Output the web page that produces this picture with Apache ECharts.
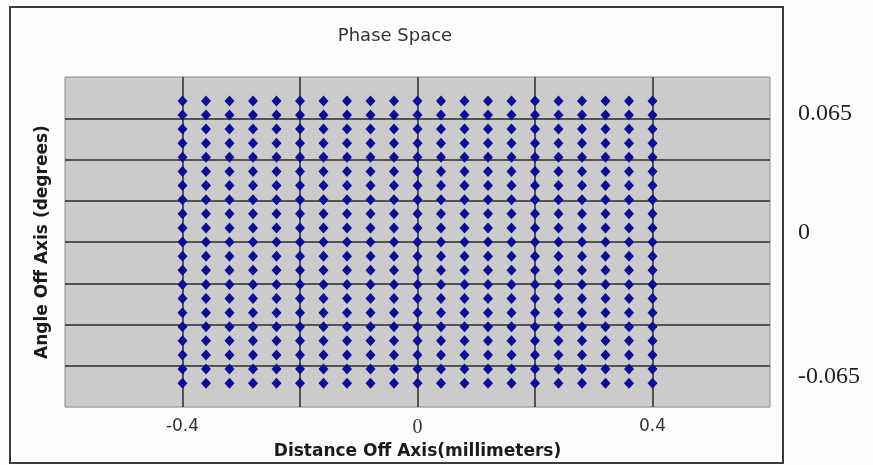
<!DOCTYPE html>
<html>
<head>
<meta charset="utf-8">
<script src="https://cdn.jsdelivr.net/npm/echarts@6/dist/echarts.min.js"></script>
<style>html,body{margin:0;padding:0;background:#fdfdfd}#c{width:873px;height:465px}</style>
</head>
<body>
<div id="c"></div>
<script>
var columns = [-0.4,-0.36,-0.32,-0.28,-0.24,-0.2,-0.16,-0.12,-0.08,-0.04,0,0.04,0.08,0.12,0.16,0.2,0.24,0.28,0.32,0.36,0.4];
var rows = [-0.065,-0.0585,-0.052,-0.0455,-0.039,-0.0325,-0.026,-0.0195,-0.013,-0.0065,0,0.0065,0.013,0.0195,0.026,0.0325,0.039,0.0455,0.052,0.0585,0.065];
var xTickLabels = ['-0.4','0','0.4'];
var sideLabels = ['0.065','0','-0.065'];

var points = [];
columns.forEach(function(x){ rows.forEach(function(y){ points.push([x,y]); }); });

var chart = echarts.init(document.getElementById('c'), null, {renderer:'canvas'});
var font = 'DejaVu Sans, Liberation Sans, Arial, sans-serif';
var serif = 'Liberation Serif, Times New Roman, serif';
chart.setOption({
  backgroundColor:'#fdfdfd',
  animation:false,
  grid:{left:65, top:77, width:705, height:332, show:true, backgroundColor:'#cbcbcb', borderColor:'#8c8c8c', borderWidth:1},
  xAxis:{
    type:'value', min:-0.6, max:0.6, interval:0.2,
    axisLine:{show:false}, axisTick:{show:false},
    splitLine:{show:true, showMinLine:false, showMaxLine:false, lineStyle:{color:'#2b2b2b', width:1.5}},
    axisLabel:{
      margin:11, fontFamily:font, fontSize:17, color:'#333',
      formatter:function(v){
        for (var i=0;i<xTickLabels.length;i++){ if (Math.abs(v-parseFloat(xTickLabels[i]))<1e-9) return xTickLabels[i]==='0' ? '{s|0}' : xTickLabels[i]; }
        return '';
      },
      rich:{s:{fontFamily:serif, fontSize:20, color:'#333'}}
    },
    name:'Distance Off Axis(millimeters)', nameLocation:'middle', nameGap:28,
    nameTextStyle:{fontFamily:font, fontSize:17, fontWeight:'bold', color:'#1a1a1a'}
  },
  yAxis:{
    type:'value', min:-0.076, max:0.076, interval:0.019,
    axisLine:{show:false}, axisTick:{show:false}, axisLabel:{show:false},
    splitLine:{show:true, showMinLine:false, showMaxLine:false, lineStyle:{color:'#2b2b2b', width:1.5}},
    name:'Angle Off Axis (degrees)', nameLocation:'middle', nameGap:14, nameRotate:90,
    nameTextStyle:{fontFamily:font, fontSize:17, fontWeight:'bold', color:'#1a1a1a'}
  },
  series:[{
    type:'scatter', data:points, symbol:'diamond', symbolSize:[10,11],
    itemStyle:{color:'#0c0c98', opacity:1}
  }],
  graphic:[
    {type:'rect', shape:{x:10, y:7, width:773, height:456}, style:{fill:'none', stroke:'#3c3c3c', lineWidth:2}, silent:true},
    {type:'text', x:395, y:36, style:{text:'Phase Space', fontFamily:font, fontSize:18, fill:'#333', textAlign:'center', textVerticalAlign:'middle'}},
    {type:'text', x:798, y:114, style:{text:sideLabels[0], fontFamily:serif, fontSize:24, fill:'#222', textAlign:'left', textVerticalAlign:'middle'}},
    {type:'text', x:798, y:233, style:{text:sideLabels[1], fontFamily:serif, fontSize:24, fill:'#222', textAlign:'left', textVerticalAlign:'middle'}},
    {type:'text', x:798, y:377, style:{text:sideLabels[2], fontFamily:serif, fontSize:24, fill:'#222', textAlign:'left', textVerticalAlign:'middle'}}
  ]
});
</script>
</body>
</html>
